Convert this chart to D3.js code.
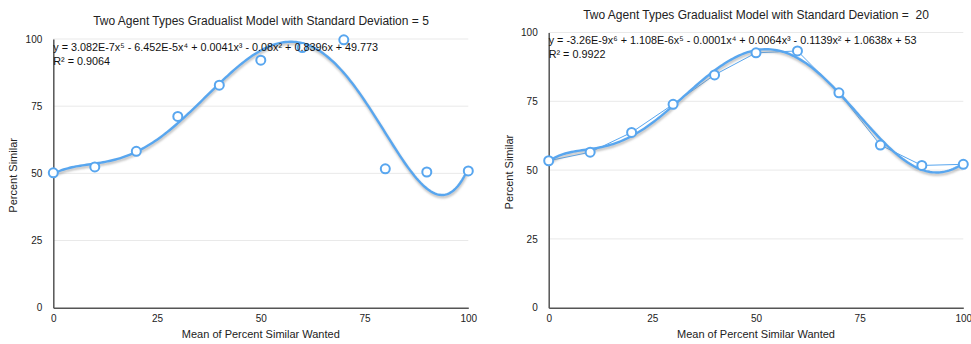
<!DOCTYPE html>
<html><head><meta charset="utf-8">
<script src="https://cdn.jsdelivr.net/npm/d3@7/dist/d3.min.js"></script>
<style>
body{margin:0;background:#fff;}
svg{font-family:"Liberation Sans",Arial,Helvetica,sans-serif;}
</style></head>
<body><svg id="c" width="971" height="344"></svg>
<script>
const xValues = [0,10,20,30,40,50,60,70,80,90,100];
const sd5Values = [50.2,52.4,58.2,71.2,82.8,92.1,96.8,99.7,51.7,50.5,50.9];
const sd20Values = [53.4,56.5,63.7,73.9,84.6,92.6,93.3,78.1,59.1,51.7,52.1];
const yTicks = [0,25,50,75,100];
const xTicks = [0,25,50,75,100];
const titles = ["Two Agent Types Gradualist Model with Standard Deviation = 5",
                "Two Agent Types Gradualist Model with Standard Deviation =  20"];
const equations = ["y = 3.082E-7x\u2075 - 6.452E-5x\u2074 + 0.0041x\u00b3 - 0.08x\u00b2 + 0.8396x + 49.773",
                   "y = -3.26E-9x\u2076 + 1.108E-6x\u2075 - 0.0001x\u2074 + 0.0064x\u00b3 - 0.1139x\u00b2 + 1.0638x + 53"];
const rSquared = ["R\u00b2 = 0.9064","R\u00b2 = 0.9922"];
const degrees = [5,6];
const xLabel = "Mean of Percent Similar Wanted";
const yLabel = "Percent Similar";

function polyfit(xs, ys, deg){
  const n = deg+1;
  const A = Array.from({length:n},()=>new Array(n+1).fill(0));
  xs.forEach((x0,k)=>{
    const x = x0/100;
    for(let i=0;i<n;i++){
      for(let j=0;j<n;j++) A[i][j]+=Math.pow(x,i+j);
      A[i][n]+=ys[k]*Math.pow(x,i);
    }
  });
  for(let i=0;i<n;i++){
    let p=i; for(let r=i+1;r<n;r++) if(Math.abs(A[r][i])>Math.abs(A[p][i])) p=r;
    [A[i],A[p]]=[A[p],A[i]];
    for(let r=0;r<n;r++){ if(r===i) continue; const f=A[r][i]/A[i][i]; for(let c=i;c<=n;c++) A[r][c]-=f*A[i][c]; }
  }
  const coef = A.map((row,i)=>row[n]/row[i]);
  return x0=>{const x=x0/100; let s=0; for(let i=0;i<n;i++) s+=coef[i]*Math.pow(x,i); return s;};
}

const svg = d3.select("#c");
const defs = svg.append("defs");
defs.append("filter").attr("id","blur").append("feGaussianBlur").attr("stdDeviation",1.2);

const blue = "#58a6ef";
const panels = [
  {x0:53.3,x1:468.3,y0:307.7,y1:39,vals:sd5Values,connect:false,titleX:261,titleY:25,eqY:51,rY:65,yLabX:17,xLabY:338},
  {x0:548.7,x1:963.3,y0:307.7,y1:32.5,vals:sd20Values,connect:true,titleX:756,titleY:18.5,eqY:43.5,rY:58,yLabX:513,xLabY:338}
];

panels.forEach((p,idx)=>{
  const x = d3.scaleLinear().domain([0,100]).range([p.x0,p.x1]);
  const y = d3.scaleLinear().domain([0,100]).range([p.y0,p.y1]);
  const g = svg.append("g");
  g.selectAll("line.grid").data(yTicks.filter(t=>t>0)).enter().append("line")
    .attr("x1",p.x0).attr("x2",p.x1).attr("y1",d=>y(d)).attr("y2",d=>y(d))
    .attr("stroke","#e9e9e9").attr("stroke-width",1);
  const ya = g.append("g").attr("transform",`translate(${p.x0},0)`)
    .call(d3.axisLeft(y).tickValues(yTicks).tickSize(0).tickPadding(11));
  ya.select(".domain").attr("stroke","#555").attr("stroke-width",1.5);
  ya.selectAll("text").attr("font-size",10).attr("fill","#222").attr("font-family","inherit");
  const xa = g.append("g").attr("transform",`translate(0,${p.y0})`)
    .call(d3.axisBottom(x).tickValues(xTicks).tickSize(0).tickPadding(7));
  xa.select(".domain").attr("stroke","#555").attr("stroke-width",1.5);
  xa.selectAll("text").attr("font-size",10).attr("fill","#222").attr("font-family","inherit");
  g.append("text").attr("x",p.titleX).attr("y",p.titleY).attr("text-anchor","middle")
    .attr("font-size",12).attr("fill","#222").style("white-space","pre").text(titles[idx]);
  g.append("text").attr("x",(p.x0+p.x1)/2).attr("y",p.xLabY).attr("text-anchor","middle")
    .attr("font-size",11).attr("fill","#222").text(xLabel);
  g.append("text").attr("transform",`translate(${p.yLabX},${(p.y0+p.y1)/2+2}) rotate(-90)`)
    .attr("text-anchor","middle").attr("font-size",11).attr("fill","#222").text(yLabel);
  const pts = xValues.map((v,i)=>[v,p.vals[i]]);
  if(p.connect){
    g.append("path").datum(pts).attr("fill","none").attr("stroke",blue).attr("stroke-width",1)
      .attr("d",d3.line().x(d=>x(d[0])).y(d=>y(d[1])));
  }
  const f = polyfit(xValues,p.vals,degrees[idx]);
  const tpts = d3.range(0,100.01,0.5).map(v=>[v,f(v)]);
  const tl = d3.line().x(d=>x(d[0])).y(d=>y(d[1]));
  g.append("path").datum(tpts).attr("fill","none").attr("stroke","#888").attr("stroke-opacity",0.55)
    .attr("stroke-width",2.5).attr("transform","translate(0.5,2)").attr("filter","url(#blur)").attr("d",tl);
  g.append("path").datum(tpts).attr("fill","none").attr("stroke",blue).attr("stroke-width",2.4).attr("d",tl);
  g.selectAll("circle").data(pts).enter().append("circle")
    .attr("cx",d=>x(d[0])).attr("cy",d=>y(d[1])).attr("r",4.5)
    .attr("fill","#fff").attr("stroke",blue).attr("stroke-width",2);
  g.append("text").attr("x",p.x0).attr("y",p.eqY).attr("font-size",10.8).attr("fill","#111").text(equations[idx]);
  g.append("text").attr("x",p.x0).attr("y",p.rY).attr("font-size",10.8).attr("fill","#111").text(rSquared[idx]);
});
</script></body></html>
